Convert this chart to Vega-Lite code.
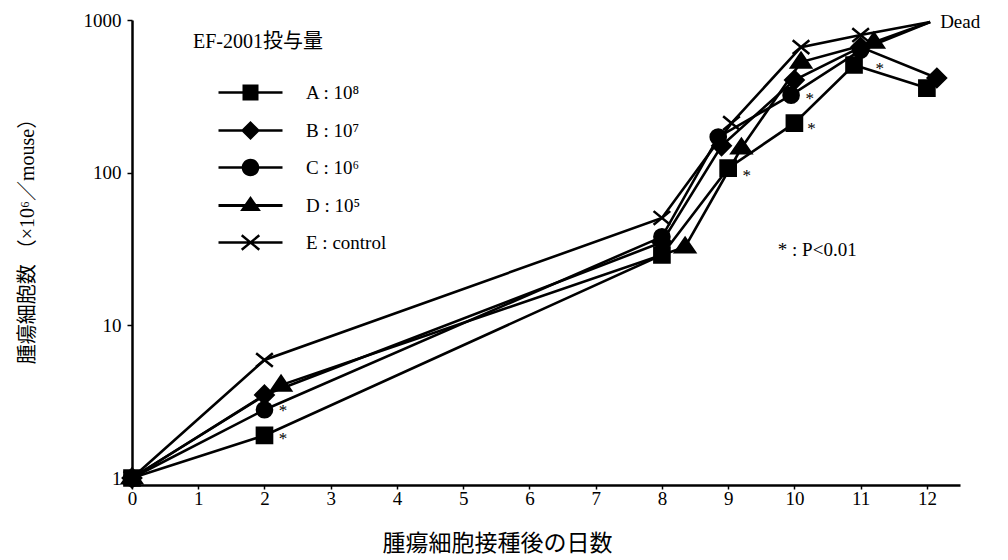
{
  "$schema": "https://vega.github.io/schema/vega-lite/v6.json",
  "width": 828,
  "height": 465,
  "autosize": {"type": "none"},
  "padding": {"left": 132, "top": 20, "right": 48, "bottom": 75},
  "background": "white",
  "config": {
    "view": {"stroke": null},
    "font": "Liberation Serif, Noto Sans CJK JP",
    "axis": {"labelColor": "black", "titleColor": "black", "domainColor": "black", "tickColor": "black", "grid": false}
  },
  "datasets": {
    "series": [
      {"group": "A", "day": 0, "cells": 1, "status": "alive"},
      {"group": "A", "day": 2, "cells": 1.9, "status": "alive"},
      {"group": "A", "day": 8, "cells": 28.9, "status": "alive"},
      {"group": "A", "day": 9, "cells": 107, "status": "alive"},
      {"group": "A", "day": 10, "cells": 211, "status": "alive"},
      {"group": "A", "day": 10.9, "cells": 507, "status": "alive"},
      {"group": "A", "day": 12, "cells": 358, "status": "alive"},
      {"group": "B", "day": 0, "cells": 1, "status": "alive"},
      {"group": "B", "day": 2, "cells": 3.5, "status": "alive"},
      {"group": "B", "day": 8, "cells": 35, "status": "alive"},
      {"group": "B", "day": 8.9, "cells": 150, "status": "alive"},
      {"group": "B", "day": 10, "cells": 404, "status": "alive"},
      {"group": "B", "day": 11, "cells": 664, "status": "alive"},
      {"group": "B", "day": 12.15, "cells": 417, "status": "alive"},
      {"group": "C", "day": 0, "cells": 1, "status": "alive"},
      {"group": "C", "day": 2, "cells": 2.8, "status": "alive"},
      {"group": "C", "day": 8, "cells": 38, "status": "alive"},
      {"group": "C", "day": 8.85, "cells": 171, "status": "alive"},
      {"group": "C", "day": 9.95, "cells": 322, "status": "alive"},
      {"group": "C", "day": 11, "cells": 635, "status": "alive"},
      {"group": "C", "day": 12.05, "cells": 970, "status": "dead"},
      {"group": "D", "day": 0, "cells": 1, "status": "alive"},
      {"group": "D", "day": 2.25, "cells": 4.06, "status": "alive"},
      {"group": "D", "day": 8.35, "cells": 32.6, "status": "alive"},
      {"group": "D", "day": 9.2, "cells": 145, "status": "alive"},
      {"group": "D", "day": 10.1, "cells": 530, "status": "alive"},
      {"group": "D", "day": 11.2, "cells": 716, "status": "alive"},
      {"group": "D", "day": 12.05, "cells": 970, "status": "dead"},
      {"group": "E", "day": 0, "cells": 1, "status": "alive"},
      {"group": "E", "day": 2, "cells": 5.93, "status": "alive"},
      {"group": "E", "day": 8, "cells": 50.5, "status": "alive"},
      {"group": "E", "day": 9.05, "cells": 211, "status": "alive"},
      {"group": "E", "day": 10.1, "cells": 664, "status": "alive"},
      {"group": "E", "day": 11, "cells": 797, "status": "alive"},
      {"group": "E", "day": 12.05, "cells": 970, "status": "dead"}
    ],
    "notes": [
      {"day": 12.2, "cells": 970, "label": "Dead"},
      {"day": 9.75, "cells": 31.1, "label": "* : P<0.01"}
    ],
    "stars": [
      {"day": 2.28, "cells": 2.92, "label": "*"},
      {"day": 2.28, "cells": 1.91, "label": "*"},
      {"day": 9.28, "cells": 101, "label": "*"},
      {"day": 10.23, "cells": 321, "label": "*"},
      {"day": 10.26, "cells": 205, "label": "*"},
      {"day": 11.29, "cells": 508, "label": "*"}
    ]
  },
  "encoding": {
    "x": {
      "field": "day",
      "type": "quantitative",
      "scale": {"domain": [0, 12.5], "nice": false, "zero": false},
      "axis": {
        "title": "腫瘍細胞接種後の日数",
        "titleFont": "Noto Sans CJK JP",
        "titleFontSize": 23,
        "titleFontWeight": "normal",
        "titleX": 365,
        "titleY": 58,
        "titleAlign": "center",
        "titleBaseline": "middle",
        "values": [0, 1, 2, 3, 4, 5, 6, 7, 8, 9, 10, 11, 12],
        "format": "d",
        "labelFontSize": 19,
        "labelFlush": false,
        "domainWidth": 2.5,
        "tickWidth": 1.5,
        "tickSize": 4,
        "labelPadding": 0
      }
    },
    "y": {
      "field": "cells",
      "type": "quantitative",
      "scale": {"type": "log", "domain": [0.9, 1000], "nice": false, "zero": false},
      "axis": {
        "title": "腫瘍細胞数 （×10⁶／mouse）",
        "titleFontSize": 20,
        "titleFontWeight": "normal",
        "titleAngle": -90,
        "titleX": -105,
        "titleY": 216,
        "titleAlign": "center",
        "titleBaseline": "middle",
        "values": [1, 10, 100, 1000],
        "format": "d",
        "labelFontSize": 19,
        "labelFlush": false,
        "domainWidth": 2.5,
        "tickWidth": 1.5,
        "tickSize": 5,
        "labelPadding": 6
      }
    }
  },
  "layer": [
    {
      "data": {"name": "series"},
      "mark": {"type": "line", "color": "black", "strokeWidth": 2.6},
      "encoding": {"detail": {"field": "group", "type": "nominal"}}
    },
    {
      "data": {"name": "series"},
      "transform": [{"filter": "datum.status === 'alive'"}],
      "mark": {"type": "point", "filled": true, "color": "black", "stroke": "black", "strokeWidth": 2.5, "size": 230, "opacity": 1},
      "encoding": {
        "shape": {
          "field": "group",
          "type": "nominal",
          "scale": {
            "domain": ["A", "B", "C", "D", "E"],
            "range": [
              "M-1,-1H1V1H-1Z",
              "M0,-1.2L1.2,0L0,1.2L-1.2,0Z",
              "circle",
              "M0,-1.2L1.3,0.7H-1.3Z",
              "M-1.1,-0.9L1.1,0.9M-1.1,0.9L1.1,-0.9"
            ]
          },
          "legend": null
        }
      }
    },
    {
      "data": {"name": "series"},
      "transform": [{"filter": "datum.status === 'alive'"}],
      "mark": {"type": "point", "filled": true, "color": "black", "opacity": 0, "size": 256},
      "encoding": {
        "shape": {
          "field": "group",
          "type": "nominal",
          "scale": {
            "domain": ["A", "B", "C", "D", "E"],
            "range": [
              "M-4,-0.17V0.17H4V-0.17ZM-1,-1V1H1V-1Z",
              "M-4,-0.17V0.17H4V-0.17ZM0,-1.2L-1.2,0L0,1.2L1.2,0Z",
              "M-4,-0.17V0.17H4V-0.17ZM-1.1,0A1.1,1.1,0,1,0,1.1,0A1.1,1.1,0,1,0,-1.1,0Z",
              "M-4,-0.2V0.2H4V-0.2ZM0,-1.2L-1.3,0.7H1.3Z",
              "M-4,-0.17V0.17H4V-0.17ZM-1.195,-0.784L1.005,1.016L1.195,0.784L-1.005,-1.016ZM-1.005,1.016L1.195,-0.784L1.005,-1.016L-1.195,0.784Z"
            ]
          },
          "legend": {
            "orient": "none",
            "legendX": 61,
            "legendY": 12,
            "padding": 0,
            "title": "EF-2001投与量",
            "titleFontSize": 20,
            "titleFontWeight": "normal",
            "titleColor": "black",
            "titlePadding": 31,
            "labelFontSize": 19,
            "labelColor": "black",
            "symbolSize": 256,
            "symbolOffset": 48,
            "labelOffset": 46,
            "rowPadding": 17,
            "symbolOpacity": 1,
            "symbolFillColor": "black",
            "symbolStrokeColor": "black",
            "symbolStrokeWidth": 0,
            "labelExpr": "{'A': 'A : 10⁸', 'B': 'B : 10⁷', 'C': 'C : 10⁶', 'D': 'D : 10⁵', 'E': 'E : control'}[datum.label]"
          }
        }
      }
    },
    {
      "data": {"name": "notes"},
      "mark": {"type": "text", "align": "left", "baseline": "middle", "fontSize": 19, "color": "black"},
      "encoding": {"text": {"field": "label", "type": "nominal"}}
    },
    {
      "data": {"name": "stars"},
      "mark": {"type": "text", "align": "center", "baseline": "middle", "fontSize": 17, "dy": 4, "color": "black"},
      "encoding": {"text": {"field": "label", "type": "nominal"}}
    }
  ],
  "resolve": {"scale": {"shape": "independent"}, "legend": {"shape": "independent"}}
}
